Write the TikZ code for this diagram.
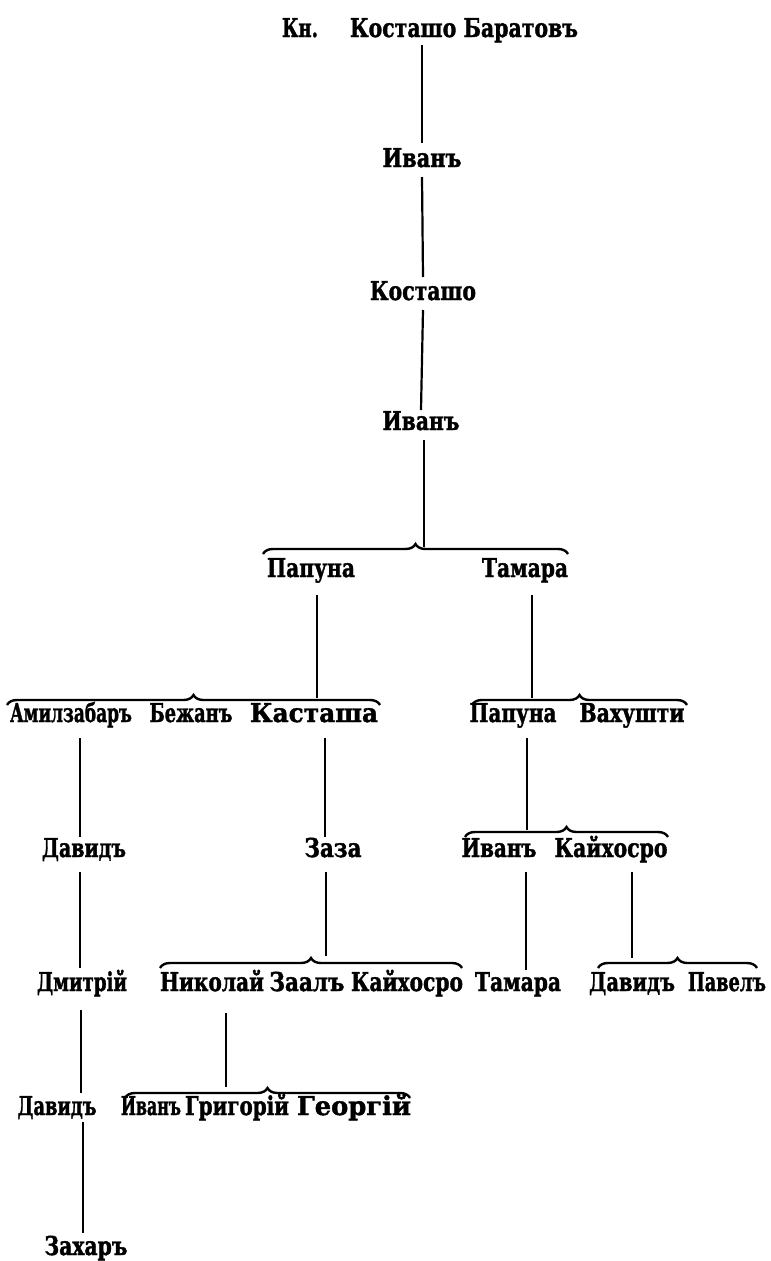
\documentclass[tikz,border=0pt]{standalone}
\usepackage{fontspec}
\setmainfont{DejaVu Serif}[BoldFeatures={FakeBold=1.6}]
\usetikzlibrary{decorations.pathreplacing,calc}
% set a name in the given width, keeping its height
\newcommand\nm[2]{\resizebox{#1}{\height}{#2}}
\begin{document}
\begin{tikzpicture}[x=1pt,y=-1pt,
  person/.style={anchor=base,inner sep=0pt,font=\bfseries\fontsize{26}{30}\selectfont},
  link/.style={line width=2.2pt},
  kin/.style={line width=2.4pt,decorate,decoration={brace,amplitude=10pt}}]
\fill[white] (0,0) rectangle (771,1261);
\useasboundingbox (0,0) rectangle (771,1261);

% generations, each name placed on its baseline
\node[person] (kn)      at (430,37)   {\nm{36pt}{Кн.}\hspace{32pt}\nm{228pt}{Косташо Баратовъ}};
\node[person] (ivan1)   at (422,167)  {\nm{79pt}{Иванъ}};
\node[person] (kost)    at (423,300)  {\nm{106pt}{Косташо}};
\node[person] (ivan2)   at (421,430)  {\nm{77pt}{Иванъ}};
\node[person] (papuna1) at (311,577)  {\nm{88pt}{Папуна}};
\node[person] (tamara1) at (525,577)  {\nm{86pt}{Тамара}};
\node[person] (amil)    at (71,722)   {\nm{122pt}{Амилзабаръ}};
\node[person] (bezhan)  at (191,722)  {\nm{83pt}{Бежанъ}};
\node[person] (kastasha)at (314,722)  {\nm{128pt}{Касташа}};
\node[person] (papuna2) at (513,722)  {\nm{87pt}{Папуна}};
\node[person] (vakh)    at (632,722)  {\nm{105pt}{Вахушти}};
\node[person] (david1)  at (84,857)   {\nm{84pt}{Давидъ}};
\node[person] (zaza)    at (333,857)  {\nm{57pt}{Заза}};
\node[person] (ivan3)   at (499,857)  {\nm{75pt}{Иванъ}};
\node[person] (kaikh1)  at (611,857)  {\nm{113pt}{Кайхосро}};
\node[person] (dmitri)  at (82,991)   {\nm{90pt}{Дмитрій}};
\node[person] (nikolai) at (212,991)  {\nm{104pt}{Николай}};
\node[person] (zaal)    at (307,991)  {\nm{75pt}{Заалъ}};
\node[person] (kaikh2)  at (407,991)  {\nm{112pt}{Кайхосро}};
\node[person] (tamara2) at (518,991)  {\nm{86pt}{Тамара}};
\node[person] (david2)  at (632,991)  {\nm{86pt}{Давидъ}};
\node[person] (pavel)   at (727,991)  {\nm{78pt}{Павелъ}};
\node[person] (david3)  at (57,1115)  {\nm{79pt}{Давидъ}};
\node[person] (ivan4)   at (151,1115) {\nm{60pt}{Иванъ}};
\node[person] (grig)    at (237,1115) {\nm{104pt}{Григорій}};
\node[person] (georg)   at (354,1115) {\nm{114pt}{Георгій}};
\node[person] (zakhar)  at (86,1255)  {\nm{83pt}{Захаръ}};

% brace ends (the straight part lies 5pt above these points)
\coordinate (b1l) at (263,554);  \coordinate (b1r) at (568,554);
\coordinate (b2l) at (7,705);    \coordinate (b2r) at (380,705);
\coordinate (b3l) at (472,705);  \coordinate (b3r) at (687,705);
\coordinate (b4l) at (465,837);  \coordinate (b4r) at (668,837);
\coordinate (b5l) at (160,968);  \coordinate (b5r) at (462,968);
\coordinate (b6l) at (598,968);  \coordinate (b6r) at (757,968);
\coordinate (b7l) at (125,1098); \coordinate (b7r) at (410,1098);

\foreach \n in {1,...,7} \draw[kin] (b\n l) -- (b\n r);

% single lines of descent
\draw[link] ($(kn.base-|ivan1.base)+(0,8)$) -- ($(ivan1.base)+(0,-24)$);
\draw[link] ($(ivan1.base)+(0,10)$) -- ($(kost.base)+(0,-23)$);
\draw[link] ($(kost.base)+(0,10)$) -- ($(ivan2.base)+(0,-20)$);
\draw[link] ($(ivan2.base)+(3,10)$) -- ($(b1l-|ivan2.base)+(3,-7)$);
\draw[link] ($(papuna1.base)+(6,18)$) -- ($(b2l-|papuna1.base)+(6,-7)$);
\draw[link] ($(tamara1.base)+(7,18)$) -- ($(b3l-|tamara1.base)+(7,-7)$);
\draw[link] ($(amil.base)+(9,16)$) -- ($(david1.base)+(-4,-20)$);
\draw[link] ($(kastasha.base)+(11,16)$) -- ($(zaza.base)+(-8,-20)$);
\draw[link] ($(papuna2.base)+(14,16)$) -- ($(b4l-|papuna2.base)+(14,-7)$);
\draw[link] ($(david1.base)+(-4,15)$) -- ($(dmitri.base)+(-2,-23)$);
\draw[link] ($(zaza.base)+(-7,15)$) -- ($(b5l-|zaza.base)+(-7,-12)$);
\draw[link] ($(ivan3.base)+(27,15)$) -- ($(tamara2.base)+(8,-21)$);
\draw[link] ($(kaikh1.base)+(21,15)$) -- ($(b6l-|kaikh1.base)+(21,-10)$);
\draw[link] ($(dmitri.base)+(-1,19)$) -- ($(david3.base)+(24,-22)$);
\draw[link] ($(nikolai.base)+(14,22)$) -- ($(b7l-|nikolai.base)+(14,-11)$);
\draw[link] ($(david3.base)+(26,7)$) -- ($(zakhar.base)+(-3,-22)$);
\end{tikzpicture}
\end{document}
